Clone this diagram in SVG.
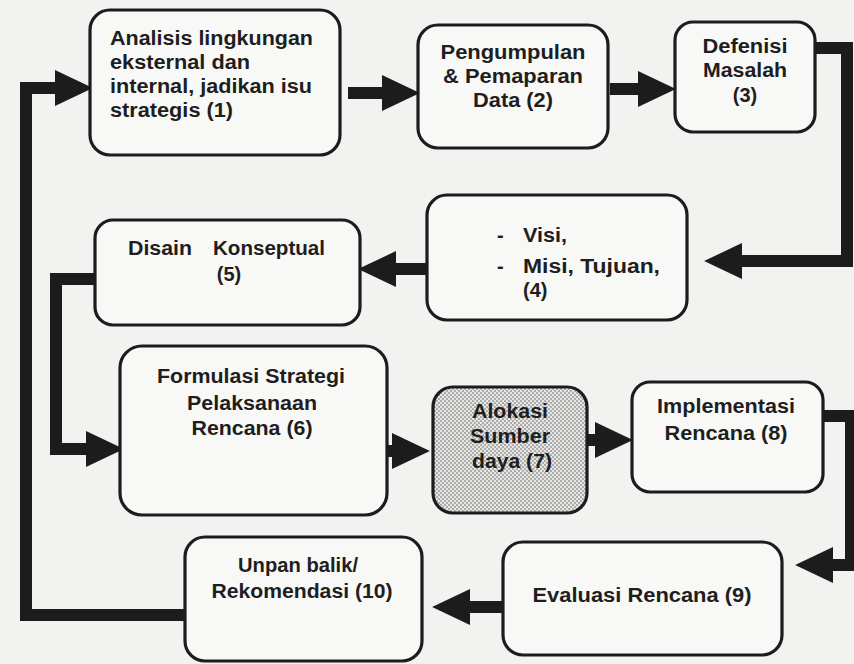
<svg xmlns="http://www.w3.org/2000/svg" width="854" height="664" viewBox="0 0 854 664">
  <defs>
    <style>
      .box { fill: #f8f8f6; stroke: #1c1c1c; stroke-width: 3.2; }
      .shade { fill: url(#dots); stroke: #1c1c1c; stroke-width: 3.2; }
      .lbl { font-family: "Liberation Sans", Arial, sans-serif; font-weight: bold; font-size: 20px; fill: #1e1e1e; }
      .mid { text-anchor: middle; }
      .flow { fill: none; stroke: #1c1c1c; stroke-width: 12; stroke-linejoin: miter; }
    </style>
    <!-- big solid arrowhead, drawn forward from the shaft end -->
    <marker id="head" markerUnits="userSpaceOnUse" markerWidth="40" markerHeight="40" viewBox="0 -18 38 36" refX="0" refY="0" orient="auto">
      <path d="M0,-17 L36,0 L0,17 Z" fill="#1c1c1c"/>
    </marker>
    <!-- stippled fill for the resource box -->
    <pattern id="dots" width="4" height="4" patternUnits="userSpaceOnUse">
      <rect width="4" height="4" fill="#e6e6e4"/>
      <circle cx="1" cy="1" r="0.75" fill="#555"/>
      <circle cx="3" cy="3" r="0.75" fill="#555"/>
    </pattern>
  </defs>

  <rect width="854" height="664" fill="#f2f2f0"/>

  <!-- connectors -->
  <g id="connectors" class="flow">
    <path d="M348,93 H382" marker-end="url(#head)"/>
    <path d="M610,89 H638" marker-end="url(#head)"/>
    <path d="M815,48 H847 V261 H742" marker-end="url(#head)"/>
    <path d="M427,269 H396" marker-end="url(#head)"/>
    <path d="M95,279 H56 V449 H86" marker-end="url(#head)"/>
    <path d="M387,451 H392" marker-end="url(#head)"/>
    <path d="M587,440 H595" marker-end="url(#head)"/>
    <path d="M823,416 H851 V565 H833" marker-end="url(#head)"/>
    <path d="M503,607 H470" marker-end="url(#head)"/>
    <path d="M185,615 H26 V88 H55" marker-end="url(#head)"/>
  </g>

  <g id="n1">
    <rect class="box" x="90" y="10" width="250" height="145" rx="20"/>
    <text class="lbl" x="110" y="45" textLength="203" lengthAdjust="spacingAndGlyphs">Analisis lingkungan</text>
    <text class="lbl" x="110" y="69" textLength="140" lengthAdjust="spacingAndGlyphs">eksternal dan</text>
    <text class="lbl" x="110" y="93" textLength="202" lengthAdjust="spacingAndGlyphs">internal, jadikan isu</text>
    <text class="lbl" x="110" y="117" textLength="123" lengthAdjust="spacingAndGlyphs">strategis (1)</text>
  </g>

  <g id="n2">
    <rect class="box" x="418" y="25" width="190" height="123" rx="20"/>
    <text class="lbl mid" x="513" y="59" textLength="145" lengthAdjust="spacingAndGlyphs">Pengumpulan</text>
    <text class="lbl mid" x="513" y="83" textLength="140" lengthAdjust="spacingAndGlyphs">&amp; Pemaparan</text>
    <text class="lbl mid" x="513" y="107" textLength="80" lengthAdjust="spacingAndGlyphs">Data (2)</text>
  </g>

  <g id="n3">
    <rect class="box" x="675" y="22" width="140" height="110" rx="18"/>
    <text class="lbl mid" x="745" y="53" textLength="85" lengthAdjust="spacingAndGlyphs">Defenisi</text>
    <text class="lbl mid" x="745" y="77" textLength="84" lengthAdjust="spacingAndGlyphs">Masalah</text>
    <text class="lbl mid" x="745" y="102">(3)</text>
  </g>

  <g id="n4">
    <rect class="box" x="427" y="195" width="260" height="125" rx="20"/>
    <text class="lbl" x="497" y="242">-</text>
    <text class="lbl" x="523" y="242" textLength="44" lengthAdjust="spacingAndGlyphs">Visi,</text>
    <text class="lbl" x="497" y="273">-</text>
    <text class="lbl" x="523" y="273" textLength="137" lengthAdjust="spacingAndGlyphs">Misi, Tujuan,</text>
    <text class="lbl" x="523" y="297">(4)</text>
  </g>

  <g id="n5">
    <rect class="box" x="95" y="220" width="265" height="105" rx="18"/>
    <text class="lbl" x="128" y="255" textLength="64" lengthAdjust="spacingAndGlyphs">Disain</text>
    <text class="lbl" x="213" y="255" textLength="112" lengthAdjust="spacingAndGlyphs">Konseptual</text>
    <text class="lbl mid" x="229" y="281">(5)</text>
  </g>

  <g id="n6">
    <rect class="box" x="120" y="346" width="267" height="169" rx="22"/>
    <text class="lbl mid" x="251" y="383" textLength="188" lengthAdjust="spacingAndGlyphs">Formulasi Strategi</text>
    <text class="lbl mid" x="252" y="410" textLength="130" lengthAdjust="spacingAndGlyphs">Pelaksanaan</text>
    <text class="lbl mid" x="252" y="435" textLength="121" lengthAdjust="spacingAndGlyphs">Rencana (6)</text>
  </g>

  <g id="n7">
    <rect class="shade" x="433" y="387" width="154" height="126" rx="20"/>
    <text class="lbl mid" x="510" y="418" textLength="76" lengthAdjust="spacingAndGlyphs">Alokasi</text>
    <text class="lbl mid" x="510" y="443" textLength="80" lengthAdjust="spacingAndGlyphs">Sumber</text>
    <text class="lbl mid" x="512" y="468" textLength="80" lengthAdjust="spacingAndGlyphs">daya (7)</text>
  </g>

  <g id="n8">
    <rect class="box" x="632" y="382" width="191" height="110" rx="18"/>
    <text class="lbl mid" x="726" y="413" textLength="138" lengthAdjust="spacingAndGlyphs">Implementasi</text>
    <text class="lbl mid" x="726" y="440" textLength="123" lengthAdjust="spacingAndGlyphs">Rencana (8)</text>
  </g>

  <g id="n9">
    <rect class="box" x="503" y="542" width="279" height="113" rx="20"/>
    <text class="lbl mid" x="642" y="602" textLength="219" lengthAdjust="spacingAndGlyphs">Evaluasi Rencana (9)</text>
  </g>

  <g id="n10">
    <rect class="box" x="185" y="537" width="237" height="124" rx="20"/>
    <text class="lbl mid" x="298" y="572" textLength="120" lengthAdjust="spacingAndGlyphs">Unpan balik/</text>
    <text class="lbl mid" x="302" y="598" textLength="181" lengthAdjust="spacingAndGlyphs">Rekomendasi (10)</text>
  </g>
</svg>
